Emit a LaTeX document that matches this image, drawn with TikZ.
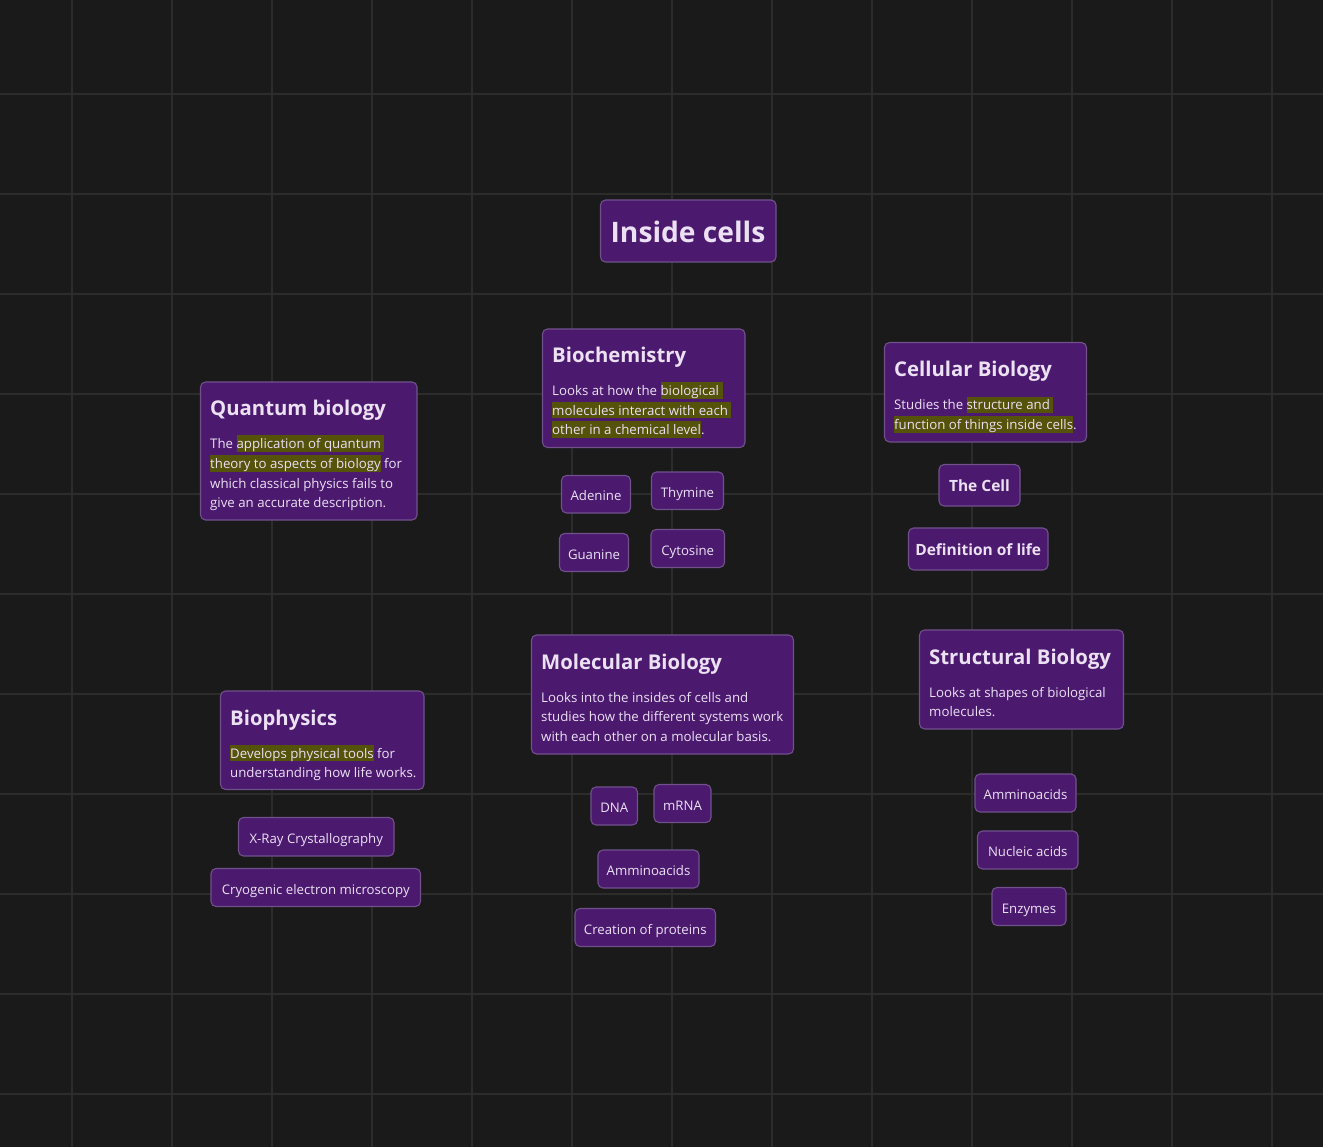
\documentclass[tikz,border=0pt]{standalone}
\usepackage{fontspec}
\setmainfont{Open Sans}
\usetikzlibrary{fit}

\definecolor{canvas}{HTML}{1A1A1A}
\definecolor{gridline}{HTML}{2C2C2C}
\definecolor{cardfill}{HTML}{4B1A6F}
\definecolor{cardedge}{HTML}{71508C}
\definecolor{ink}{HTML}{ECE0F4}
\definecolor{hlcol}{HTML}{55520A}

% olive highlight behind a run of words
\newcommand\hlt[1]{{\setlength{\fboxsep}{0pt}\colorbox{hlcol}{\rule[-3pt]{0pt}{16.5pt}#1}}}

\tikzset{
  card/.style={draw=cardedge, fill=cardfill, line width=1.1pt, rounded corners=5pt, inner sep=0pt},
  chip/.style={card, text=ink, font=\fontsize{13.2}{15}\selectfont, text height=13.5pt, text depth=0.5pt},
  boldchip/.style={card, text=ink, font=\fontsize{15.5}{18}\selectfont\bfseries, text height=13pt, text depth=0.5pt},
  cardtitle/.style={anchor=base west, text=ink, inner sep=0pt, font=\fontsize{20.3}{24}\selectfont\bfseries},
  cardline/.style={anchor=base west, text=ink, inner sep=0pt, font=\fontsize{13.25}{16}\selectfont},
}

\begin{document}
\begin{tikzpicture}[x=1pt, y=-1pt]
  % canvas and grid
  \fill[canvas] (0,0) rectangle (1323,1147);
  \useasboundingbox (0,0) rectangle (1323,1147);
  \foreach \gx in {72,172,...,1272} \draw[gridline, line width=1.3pt] (\gx,0) -- (\gx,1147);
  \foreach \gy in {94,194,...,1094} \draw[gridline, line width=1.3pt] (0,\gy) -- (1323,\gy);

  % heading
  \node[card, fit={(600.5,200) (776,262)}] (inside) {};
  \node[anchor=base, text=ink, inner sep=0pt, font=\fontsize{28.2}{32}\selectfont\bfseries] (insidetxt) at (688,243) {Inside cells};

  % Quantum biology
  \node[card, fit={(200.5,382) (417,520)}] (quantum) {};
  \node[cardtitle] (quantumt) at (210,416) {Quantum biology};
  \node[cardline] (quantum1) at (210,449) {The \hlt{application of quantum }};
  \node[cardline] (quantum2) at (210,468.5) {\hlt{theory to aspects of biology} for};
  \node[cardline] (quantum3) at (210,488) {which classical physics fails to};
  \node[cardline] (quantum4) at (210,507.5) {give an accurate description.};

  % Biochemistry
  \node[card, fit={(542.5,329) (745,447.5)}] (biochem) {};
  \node[cardtitle] (biochemt) at (552,363) {Biochemistry};
  \node[cardline] (biochem1) at (552,396) {Looks at how the \hlt{biological }};
  \node[cardline] (biochem2) at (552,415.5) {\hlt{molecules interact with each }};
  \node[cardline] (biochem3) at (552,435) {\hlt{other in a chemical level}.};

  \node[chip, minimum width=69pt, minimum height=37.5pt] (adenine) at (596,494.25) {Adenine};
  \node[chip, minimum width=72pt, minimum height=37.5pt] (thymine) at (687.5,490.75) {Thymine};
  \node[chip, minimum width=69pt, minimum height=38pt] (guanine) at (594,552.5) {Guanine};
  \node[chip, minimum width=73.5pt, minimum height=38pt] (cytosine) at (687.75,548.5) {Cytosine};

  % Cellular Biology
  \node[card, fit={(884.5,342.5) (1086.5,442)}] (cellular) {};
  \node[cardtitle] (cellulart) at (894,377) {Cellular Biology};
  \node[cardline] (cellular1) at (894,410) {Studies the \hlt{structure and }};
  \node[cardline] (cellular2) at (894,429.5) {\hlt{function of things inside cells}.};

  \node[boldchip, minimum width=81pt, minimum height=41.5pt] (thecell) at (979.5,485.25) {The Cell};
  \node[boldchip, minimum width=139.5pt, minimum height=42pt] (deflife) at (978.25,549) {Definition of life};

  % Biophysics
  \node[card, fit={(220.5,691) (424,789.5)}] (biophys) {};
  \node[cardtitle] (biophyst) at (230,725) {Biophysics};
  \node[cardline] (biophys1) at (230,758) {\hlt{Develops physical tools} for};
  \node[cardline] (biophys2) at (230,777.5) {understanding how life works.};

  \node[chip, minimum width=155.5pt, minimum height=38.5pt] (xray) at (316.25,836.75) {X-Ray Crystallography};
  \node[chip, minimum width=209.5pt, minimum height=38pt] (cryo) at (315.75,887.5) {Cryogenic electron microscopy};

  % Molecular Biology
  \node[card, fit={(531.5,635) (793.5,754)}] (molecular) {};
  \node[cardtitle] (moleculart) at (541,669) {Molecular Biology};
  \node[cardline] (molecular1) at (541,702) {Looks into the insides of cells and};
  \node[cardline] (molecular2) at (541,721.5) {studies how the different systems work};
  \node[cardline] (molecular3) at (541,741) {with each other on a molecular basis.};

  \node[chip, minimum width=46.5pt, minimum height=38pt] (dna) at (614.25,806) {DNA};
  \node[chip, minimum width=57pt, minimum height=38pt] (mrna) at (682.5,803.5) {mRNA};
  \node[chip, minimum width=101pt, minimum height=38pt] (amino) at (648.5,869) {Amminoacids};
  \node[chip, minimum width=140.5pt, minimum height=38pt] (proteins) at (645.25,927.5) {Creation of proteins};

  % Structural Biology
  \node[card, fit={(919.5,630) (1123.5,729)}] (structural) {};
  \node[cardtitle] (structuralt) at (929,664) {Structural Biology};
  \node[cardline] (structural1) at (929,697) {Looks at shapes of biological};
  \node[cardline] (structural2) at (929,716.5) {molecules.};

  \node[chip, minimum width=101pt, minimum height=38pt] (aminoright) at (1025.5,793) {Amminoacids};
  \node[chip, minimum width=100.5pt, minimum height=38pt] (nucleic) at (1027.75,850) {Nucleic acids};
  \node[chip, minimum width=74pt, minimum height=38pt] (enzymes) at (1029,906.5) {Enzymes};
\end{tikzpicture}
\end{document}
